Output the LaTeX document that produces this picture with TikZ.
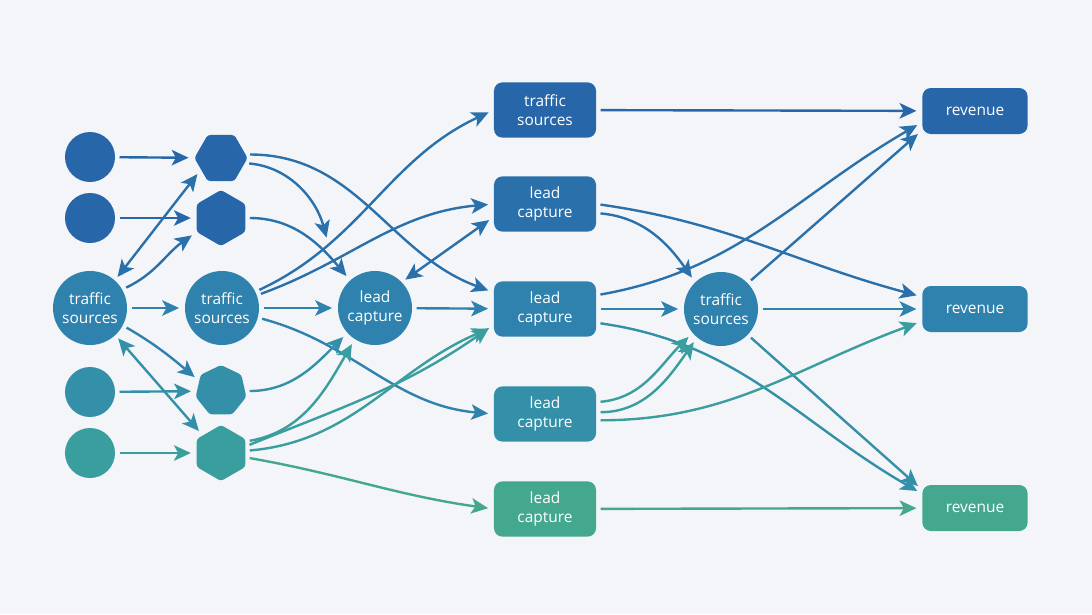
\documentclass[tikz,border=0pt]{standalone}
\usepackage{fontspec}
\setmainfont{Open Sans}
\usepackage{xcolor}
\usetikzlibrary{shapes,arrows.meta,positioning,calc}

\definecolor{bgc}{HTML}{F3F5F8}
\definecolor{colA}{HTML}{2766A8}
\definecolor{colB}{HTML}{2A70AB}
\definecolor{colC}{HTML}{2E82AD}
\definecolor{colD}{HTML}{3490A9}
\definecolor{colE}{HTML}{3A9D9E}
\definecolor{colF}{HTML}{44A88F}

\begin{document}
\begin{tikzpicture}[
    x=0.025cm, y=0.025cm,
    >={Stealth[length=12pt, width=11pt, inset=3pt]},
    lbl/.style={text=white, align=center, font=\fontsize{11}{13.5}\selectfont},
    dot/.style={circle, fill=#1, minimum size=1.25cm, inner sep=0pt},
    hub/.style={circle, fill=#1, minimum size=1.85cm, inner sep=0pt, lbl},
    hexa/.style={regular polygon, regular polygon sides=6, fill=#1, minimum size=1.33cm, inner sep=0pt, rounded corners=2pt},
    vhexa/.style={hexa=#1, shape border rotate=30, minimum size=1.4cm},
    hepta/.style={regular polygon, regular polygon sides=7, fill=#1, minimum size=1.3cm, inner sep=0pt, rounded corners=2pt},
    box/.style={rectangle, rounded corners=6pt, fill=#1, minimum width=2.55cm, minimum height=1.38cm, lbl},
    revbox/.style={box=#1, minimum width=2.63cm, minimum height=1.15cm},
    arrow/.style={->, line width=1.7pt, draw=#1, shorten <=3pt, shorten >=4pt}
]
\useasboundingbox (0,0) rectangle (1092,-614);
\fill[bgc] (0,0) rectangle (1092,-614);

% first column
\node[dot=colA] (c1) at (90,-157) {};
\node[dot=colA] (c2) at (90,-218) {};
\node[hub=colC] (ts1) at (90,-308) {traffic\\sources};
\node[dot=colD] (c4) at (90,-392) {};
\node[dot=colE] (c5) at (90,-453) {};

% second column
\node[hexa=colA] (h1) at (221,-158) {};
\node[vhexa=colA] (h2) at (221,-218) {};
\node[hub=colC] (ts2) at (222,-308) {traffic\\sources};
\node[hepta=colD] (h3) at (221,-391) {};
\node[vhexa=colE] (h4) at (221,-453) {};

% middle
\node[hub=colC] (lc1) at (375,-308) {lead\\capture};
\coordinate (e1) at (328,-243);

\node[box=colA] (r1) at (545,-110) {traffic\\sources};
\node[box=colB] (r2) at (545,-204) {lead\\capture};
\node[box=colC] (r3) at (545,-309) {lead\\capture};
\node[box=colD] (r4) at (545,-414) {lead\\capture};
\node[box=colF] (r5) at (545,-509) {lead\\capture};

\node[hub=colC] (ts3) at (721,-309) {traffic\\sources};

% right column
\node[revbox=colA] (rev1) at (975,-111) {revenue};
\node[revbox=colC] (rev2) at (975,-309) {revenue};
\node[revbox=colF] (rev3) at (975,-508) {revenue};

% links, left part
\draw[arrow=colA] (c1) -- (h1);
\draw[arrow=colA] (c2) -- (h2);
\draw[arrow=colD] (c4) -- (h3);
\draw[arrow=colE] (c5) -- (h4);
\draw[arrow=colC] (ts1) -- (ts2);
\draw[arrow=colB, <->] (ts1.48) -- (h1.210);
\draw[arrow=colB] (ts1.30) to[out=25, in=215] (h2.210);
\draw[arrow=colC] (ts1.-28) to[out=-30, in=140] (h3.155);
\draw[arrow=colD, <->] (ts1.-47) -- (h4.136);

\draw[arrow=colB] (h1.8) to[out=0, in=160] (r3.162);
\draw[arrow=colB] (h1.-12) to[out=-5, in=105] (e1);
\draw[arrow=colB] (h2.east) to[out=0, in=130] (lc1.132);
\draw[arrow=colC] (ts2) -- (lc1);
\draw[arrow=colB] (ts2.26) to[out=25, in=205] (r1.west);
\draw[arrow=colB] (ts2.20) to[out=20, in=185] (r2.west);
\draw[arrow=colC] (ts2.-15) to[out=-15, in=175] (r4.west);
\draw[arrow=colD] (h3.east) to[out=0, in=225] (lc1.222);
\draw[arrow=colE] (h4.25) to[out=10, in=240] (lc1.237);
\draw[arrow=colE] (h4.15) to[out=22, in=215] (r3.197);
\draw[arrow=colE] (h4.5) to[out=5, in=203] (r3.199);
\draw[arrow=colF] (h4.-10) to[out=-10, in=172] (r5.west);
\draw[arrow=colC] (lc1) -- (r3);
\draw[arrow=colB, <->] (lc1.44) -- (r2.194);

% links, right part
\draw[arrow=colA] (r1) -- (rev1);
\draw[arrow=colB] (r2.east) to[out=-8, in=165] (rev2.167);
\draw[arrow=colB] (r2.-10) to[out=-5, in=125] (ts3.134);
\draw[arrow=colB] (r3.15) to[out=10, in=210] (rev1.192);
\draw[arrow=colC] (r3) -- (ts3);
\draw[arrow=colD] (r3.-15) to[out=-8, in=150] (rev3.165);
\draw[arrow=colB] (ts3.44) -- (rev1.200);
\draw[arrow=colC] (ts3) -- (rev2);
\draw[arrow=colD] (ts3.-44) -- (rev3.161);
\draw[arrow=colE] (r4.13) to[out=5, in=225] (ts3.220);
\draw[arrow=colE] (r4.2) to[out=0, in=235] (ts3.230);
\draw[arrow=colE] (r4.-7) to[out=0, in=200] (rev2.193);
\draw[arrow=colF] (r5) -- (rev3);
\end{tikzpicture}
\end{document}
